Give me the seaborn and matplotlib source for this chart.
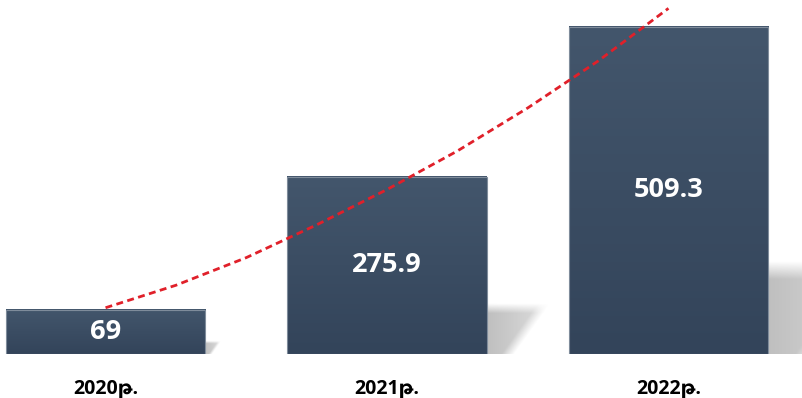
import numpy as np
import matplotlib
matplotlib.use("Agg")
import matplotlib.pyplot as plt
from matplotlib.colors import to_rgb
import seaborn as sns

sns.set_style("white")
plt.rcParams['font.family'] = ['Open Sans', 'Noto Sans', 'DejaVu Sans']

# DATA

years = ['2020թ.', '2021թ.', '2022թ.']
values = [69, 275.9, 509.3]
value_labels = ['69', '275.9', '509.3']

# trend line
trend_x = [0, 0.25, 0.5, 0.75, 1.0, 1.25, 1.5, 1.75, 2.0]
trend_y = [72, 107, 150, 201, 256, 316, 383, 456, 538]


def soft_shadow(nx=120, ny=80):
    # blurred wedge, dark next to the bar, fading out to the right
    u = np.linspace(0, 1, nx)[None, :]
    v = np.linspace(0, 1, ny)[:, None]
    edge = 0.3 + 0.55 * v
    soft = 0.18
    a_right = np.clip((edge - u) / soft + 0.5, 0, 1)
    a_top = np.clip((0.85 - v) / soft + 0.5, 0, 1)
    a = 0.5 * a_right * a_top * (1 - 0.55 * u)
    img = np.zeros((ny, nx, 4))
    img[..., :3] = 0.5
    img[..., 3] = a[::-1]
    return img


# FIGURE

fig = plt.figure(figsize=(8.03, 3.98), dpi=100)
ax = fig.add_axes([0, 44 / 398, 1, 354 / 398])

sns.barplot(x=years, y=values, width=0.71, color='#3a4c62', ax=ax,
            saturation=1, zorder=3)

top_c = np.array(to_rgb('#43566c'))
bot_c = np.array(to_rgb('#33445a'))
grad = np.linspace(0, 1, 64)[:, None, None]
bar_img = top_c * (1 - grad) + bot_c * grad
shadow_img = soft_shadow()

for patch, lab in zip(ax.patches[:3], value_labels):
    x0 = patch.get_x()
    w = patch.get_width()
    h = patch.get_height()

    # gradient fill
    ax.imshow(bar_img, extent=[x0, x0 + w, 0, h], aspect='auto',
              interpolation='bilinear', zorder=2.5)
    patch.set_facecolor('none')
    patch.set_edgecolor('#7f8c9b')
    patch.set_linewidth(0.8)

    # soft shadow to the right
    xr = x0 + w
    ext = 0.0009 * h
    sh = 0.3 * h
    ax.imshow(shadow_img, extent=[xr, xr + ext, 0, sh], aspect='auto',
              interpolation='bilinear', zorder=1)

    ax.text(x0 + w / 2, h / 2, lab, ha='center', va='center',
            color='white', fontsize=19.5, fontweight='bold', zorder=5)

ax.plot(trend_x, trend_y, color='#e0202a', lw=2.0,
        linestyle=(0, (2.5, 1.6)), zorder=4)

ax.set_xlim(-0.375, 2.478)
ax.set_ylim(0, 551)
ax.set_yticks([])
ax.set_ylabel('')
sns.despine(ax=ax, left=True, bottom=True)
ax.tick_params(axis='x', length=0, pad=18, labelsize=14)
for t in ax.get_xticklabels():
    t.set_fontweight('bold')
    t.set_color('black')

fig.savefig('out.png', dpi=100)
